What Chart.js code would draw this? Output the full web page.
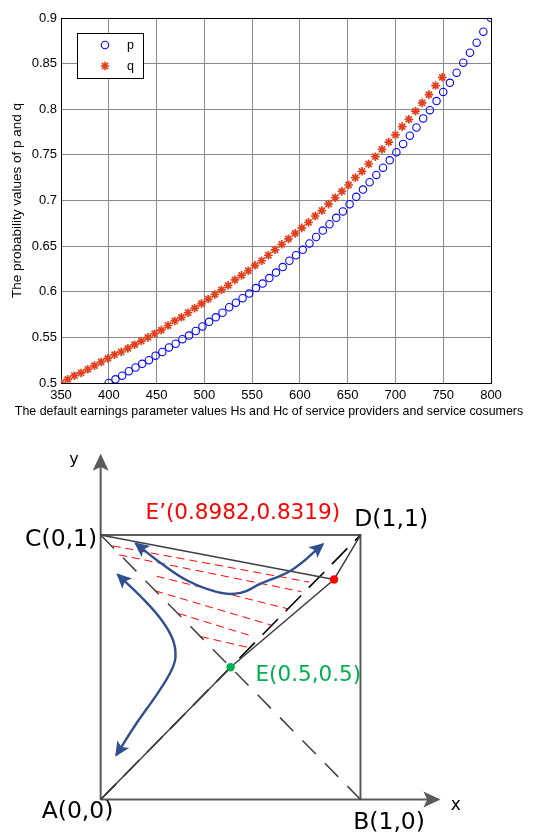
<!DOCTYPE html>
<html>
<head>
<meta charset="utf-8">
<script src="https://cdn.jsdelivr.net/npm/chart.js@4.4.1/dist/chart.umd.min.js"></script>
<style>
  body { margin: 0; background: #fff; }
  canvas { display: block; }
</style>
</head>
<body>
<canvas id="probChart" width="533" height="425"></canvas>
<canvas id="phaseChart" width="533" height="415"></canvas>
<script>
// ---- top chart data: p and q against Hs / Hc ----
const pX = [400, 407, 414, 421, 428, 435, 442, 449, 456, 463, 470, 477, 484, 491, 498,
  505, 512, 519, 526, 533, 540, 547, 554, 561, 568, 575, 582, 589, 596, 603, 610, 617,
  624, 631, 638, 645, 652, 659, 666, 673, 680, 687, 694, 701, 708, 715, 722, 729, 736,
  743, 750, 757, 764, 771, 778, 785, 792, 800];
const pVals = [0.500, 0.504, 0.508, 0.513, 0.517, 0.521, 0.525, 0.530, 0.534, 0.539,
  0.543, 0.548, 0.552, 0.557, 0.562, 0.567, 0.572, 0.577, 0.583, 0.588, 0.593, 0.598,
  0.604, 0.609, 0.615, 0.621, 0.627, 0.634, 0.640, 0.646, 0.653, 0.660, 0.667, 0.674,
  0.681, 0.688, 0.696, 0.704, 0.712, 0.720, 0.728, 0.736, 0.744, 0.753, 0.762, 0.771,
  0.780, 0.790, 0.799, 0.809, 0.819, 0.829, 0.840, 0.851, 0.862, 0.873, 0.885, 0.900];

const qX = [350, 357, 364, 371, 378, 385, 392, 399, 406, 413, 420, 427, 434, 441, 448,
  455, 462, 469, 476, 483, 490, 497, 504, 511, 518, 525, 532, 539, 546, 553, 560, 567,
  574, 581, 588, 595, 602, 609, 616, 623, 630, 637, 644, 651, 658, 665, 672, 679, 686,
  693, 700, 707, 714, 721, 728, 735, 742, 749];
const qVals = [0.500, 0.504, 0.508, 0.511, 0.515, 0.519, 0.523, 0.527, 0.531, 0.534,
  0.538, 0.542, 0.546, 0.550, 0.554, 0.558, 0.563, 0.568, 0.572, 0.577, 0.582, 0.587,
  0.592, 0.597, 0.602, 0.607, 0.613, 0.618, 0.623, 0.629, 0.634, 0.640, 0.646, 0.652,
  0.658, 0.664, 0.670, 0.676, 0.683, 0.689, 0.696, 0.703, 0.710, 0.717, 0.725, 0.732,
  0.740, 0.748, 0.756, 0.764, 0.772, 0.781, 0.789, 0.798, 0.807, 0.816, 0.826, 0.835];

const xTicks = [350, 400, 450, 500, 550, 600, 650, 700, 750, 800];
const yTicks = [0.5, 0.55, 0.6, 0.65, 0.7, 0.75, 0.8, 0.85, 0.9];
const xTitle = 'The default earnings parameter values Hs and Hc of service providers and service cosumers';
const yTitle = 'The probability values of p and q';

// ---- bottom chart data: phase diagram ----
const ptA = [0, 0];
const ptB = [1, 0];
const ptC = [0, 1];
const ptD = [1, 1];
const ptE = [0.5, 0.5];
const ptE1 = [0.8982, 0.8319];

const axisXLine = [[0, 0], [1.3, 0]];
const axisYLine = [[0, 0], [0, 1.3]];
const squareSides = [[0, 1], [1, 1], [1, 0]];
const upperBoundary = [ptC, ptE1];
const mainPath = [ptA, ptE, ptE1, ptD];
const diagDashed = [ptA, ptD];
const antiDashed = [ptC, ptB];

const redHatch = [
  [[0.046, 0.959], [0.803, 0.822]],
  [[0.071, 0.925], [0.772, 0.786]],
  [[0.216, 0.844], [0.721, 0.721]],
  [[0.210, 0.789], [0.658, 0.659]],
  [[0.301, 0.703], [0.588, 0.616]],
  [[0.386, 0.616], [0.576, 0.573]]
];

const curveTop = [[0.135, 0.968], [0.223, 0.900], [0.337, 0.826], [0.462, 0.781],
  [0.538, 0.781], [0.614, 0.815], [0.739, 0.870], [0.855, 0.965]];
const curveLeft = [[0.066, 0.850], [0.159, 0.763], [0.235, 0.678], [0.278, 0.604],
  [0.288, 0.540], [0.273, 0.490], [0.223, 0.407], [0.133, 0.281], [0.060, 0.168]];

const toXY = arr => arr.map(([x, y]) => ({ x, y }));

// ---------------- top chart ----------------
const frameBox = {
  id: 'frameBox',
  beforeDatasetsDraw(chart) {
    const { ctx, chartArea: a } = chart;
    ctx.save();
    ctx.strokeStyle = '#000';
    ctx.lineWidth = 1;
    ctx.strokeRect(Math.round(a.left) + 0.5, Math.round(a.top) + 0.5,
      Math.round(a.right - a.left), Math.round(a.bottom - a.top));
    ctx.restore();
  }
};

// x title is wider than the plot, so draw it here instead of via the scale (which squeezes it)
const wideXTitle = {
  id: 'wideXTitle',
  afterDraw(chart) {
    const { ctx, chartArea: a } = chart;
    ctx.save();
    ctx.font = '12.4px "Liberation Sans"';
    ctx.fillStyle = '#000';
    ctx.textAlign = 'center';
    ctx.textBaseline = 'middle';
    ctx.fillText(xTitle, (a.left + a.right) / 2 - 7, 412);
    ctx.restore();
  }
};

const boxLegend = {
  id: 'boxLegend',
  afterDraw(chart) {
    const ctx = chart.ctx;
    ctx.save();
    ctx.fillStyle = '#fff';
    ctx.fillRect(77.5, 33.5, 66, 45);
    ctx.strokeStyle = '#000';
    ctx.lineWidth = 1;
    ctx.strokeRect(77.5, 33.5, 66, 45);
    chart.data.datasets.forEach((ds, i) => {
      const y = 45 + i * 21;
      ctx.strokeStyle = ds.borderColor;
      ctx.fillStyle = 'rgba(0,0,0,0)';
      ctx.lineWidth = ds.borderWidth;
      Chart.helpers.drawPoint(ctx, {
        pointStyle: ds.pointStyle, radius: ds.pointRadius,
        borderWidth: ds.borderWidth, rotation: 0
      }, 105, y);
      ctx.fillStyle = '#000';
      ctx.font = '12.5px "Liberation Sans"';
      ctx.textBaseline = 'middle';
      ctx.fillText(ds.label, 127, y + 1);
    });
    ctx.restore();
  }
};

const tickFont = { family: 'Liberation Sans', size: 13 };

new Chart(document.getElementById('probChart'), {
  type: 'scatter',
  data: {
    datasets: [
      {
        label: 'p',
        data: pX.map((x, i) => ({ x, y: pVals[i] })),
        pointStyle: 'circle',
        pointRadius: 3.7,
        borderColor: '#0000ff',
        backgroundColor: 'rgba(0,0,0,0)',
        borderWidth: 1.1
      },
      {
        label: 'q',
        data: qX.map((x, i) => ({ x, y: qVals[i] })),
        pointStyle: 'star',
        pointRadius: 4.3,
        borderColor: '#e2401c',
        backgroundColor: '#e2401c',
        borderWidth: 1.7
      }
    ]
  },
  options: {
    responsive: false,
    animation: false,
    layout: { padding: { top: 18, right: 42, left: 0, bottom: 0 } },
    plugins: { legend: { display: false }, tooltip: { enabled: false } },
    scales: {
      x: {
        type: 'linear',
        min: 350,
        max: 800,
        afterBuildTicks: s => { s.ticks = xTicks.map(v => ({ value: v })); },
        afterFit: s => { s.height = 42; },
        grid: { color: '#8a8a8a', drawTicks: false },
        border: { color: '#000' },
        ticks: { padding: 5, color: '#000', font: tickFont, autoSkip: false, maxRotation: 0 },
        title: { display: false }
      },
      y: {
        min: 0.5,
        max: 0.9,
        afterBuildTicks: s => { s.ticks = yTicks.map(v => ({ value: v })); },
        afterFit: s => { s.width = 61; },
        grid: { color: '#8a8a8a', drawTicks: false },
        border: { color: '#000' },
        ticks: { padding: 4, color: '#000', font: tickFont, callback: v => String(+v.toFixed(2)) },
        title: {
          display: true,
          text: yTitle,
          color: '#000',
          font: { family: 'Liberation Sans', size: 13.5 },
          padding: { top: 9, bottom: 0 }
        }
      }
    }
  },
  plugins: [frameBox, boxLegend, wideXTitle]
});

// ---------------- bottom chart ----------------
const arrowHeads = {
  id: 'arrowHeads',
  afterDatasetsDraw(chart) {
    const ctx = chart.ctx;
    chart.data.datasets.forEach((ds, i) => {
      if (!ds.arrow) return;
      const pts = chart.getDatasetMeta(i).data;
      const n = pts.length;
      const { len, half } = ds.arrow;
      const head = (p, fx, fy) => {
        const ang = Math.atan2(p.y - fy, p.x - fx);
        const tx = p.x + Math.cos(ang) * 2;
        const ty = p.y + Math.sin(ang) * 2;
        ctx.save();
        ctx.translate(tx, ty);
        ctx.rotate(ang);
        ctx.beginPath();
        ctx.moveTo(0, 0);
        ctx.lineTo(-len, -half);
        ctx.lineTo(-len * 0.78, 0);
        ctx.lineTo(-len, half);
        ctx.closePath();
        ctx.fillStyle = ds.borderColor;
        ctx.fill();
        ctx.restore();
      };
      if (ds.arrow.start) {
        const p = pts[0];
        const useCp = p.cp2x !== undefined && (p.cp2x !== p.x || p.cp2y !== p.y);
        head(p, useCp ? p.cp2x : pts[1].x, useCp ? p.cp2y : pts[1].y);
      }
      if (ds.arrow.end) {
        const p = pts[n - 1];
        const useCp = p.cp1x !== undefined && (p.cp1x !== p.x || p.cp1y !== p.y);
        head(p, useCp ? p.cp1x : pts[n - 2].x, useCp ? p.cp1y : pts[n - 2].y);
      }
    });
  }
};

const phaseLabels = [
  { text: 'y', x: -0.103, y: 1.270, color: '#000', size: 16 },
  { text: 'x', x: 1.367, y: -0.041, color: '#000', size: 17 },
  { text: 'A(0,0)', x: -0.089, y: -0.069, color: '#000', size: 23.5 },
  { text: 'B(1,0)', x: 1.110, y: -0.111, color: '#000', size: 23.5 },
  { text: 'C(0,1)', x: -0.152, y: 0.959, color: '#000', size: 23.5 },
  { text: 'D(1,1)', x: 1.118, y: 1.033, color: '#000', size: 23.5 },
  { text: 'E\u2019(0.8982,0.8319)', x: 0.547, y: 1.059, color: '#ff0000', size: 21.5 },
  { text: 'E(0.5,0.5)', x: 0.799, y: 0.449, color: '#00b050', size: 21.5 }
];

const textLabels = {
  id: 'textLabels',
  afterDraw(chart) {
    const { ctx, scales: { x, y } } = chart;
    ctx.save();
    ctx.textAlign = 'center';
    ctx.textBaseline = 'alphabetic';
    phaseLabels.forEach(l => {
      ctx.font = l.size + 'px "DejaVu Sans"';
      ctx.fillStyle = l.color;
      ctx.fillText(l.text, x.getPixelForValue(l.x), y.getPixelForValue(l.y));
    });
    ctx.restore();
  }
};

const lineSet = (pts, color, width, extra) => Object.assign({
  data: toXY(pts),
  showLine: true,
  borderColor: color,
  backgroundColor: color,
  borderWidth: width,
  pointRadius: 0,
  tension: 0,
  fill: false
}, extra || {});

const grayAxis = '#5a5a5a';
const darkLine = '#3f3f3f';
const curveBlue = '#2f4f8f';

const phaseSets = [
  {
    data: toXY([ptE]), pointRadius: 4.2, pointBackgroundColor: '#00b050',
    pointBorderColor: '#00b050', borderWidth: 0, showLine: false
  },
  {
    data: toXY([ptE1]), pointRadius: 4.2, pointBackgroundColor: '#ff0000',
    pointBorderColor: '#ff0000', borderWidth: 0, showLine: false
  },
  lineSet(curveTop, curveBlue, 2.4, { tension: 0.4, arrow: { start: true, end: true, len: 15, half: 7 } }),
  lineSet(curveLeft, curveBlue, 2.4, { tension: 0.4, arrow: { start: true, end: true, len: 15, half: 7 } }),
  lineSet(upperBoundary, darkLine, 1.5),
  lineSet(mainPath, darkLine, 1.5),
  lineSet(diagDashed, '#000', 1.6, { borderDash: [22, 11] }),
  lineSet(antiDashed, darkLine, 1.5, { borderDash: [19, 13] }),
  ...redHatch.map(seg => lineSet(seg, '#ff0000', 1, { borderDash: [8, 5] })),
  lineSet(squareSides, grayAxis, 2),
  lineSet(axisXLine, grayAxis, 2, { arrow: { start: false, end: true, len: 17, half: 8 } }),
  lineSet(axisYLine, grayAxis, 2, { arrow: { start: false, end: true, len: 17, half: 8 } })
];

new Chart(document.getElementById('phaseChart'), {
  type: 'scatter',
  data: { datasets: phaseSets },
  options: {
    responsive: false,
    animation: false,
    layout: { padding: 0 },
    plugins: { legend: { display: false }, tooltip: { enabled: false } },
    scales: {
      x: { type: 'linear', display: false, min: -0.371212, max: 1.647727 },
      y: { type: 'linear', display: false, min: -0.137037, max: 1.4 }
    }
  },
  plugins: [arrowHeads, textLabels]
});
</script>
</body>
</html>
